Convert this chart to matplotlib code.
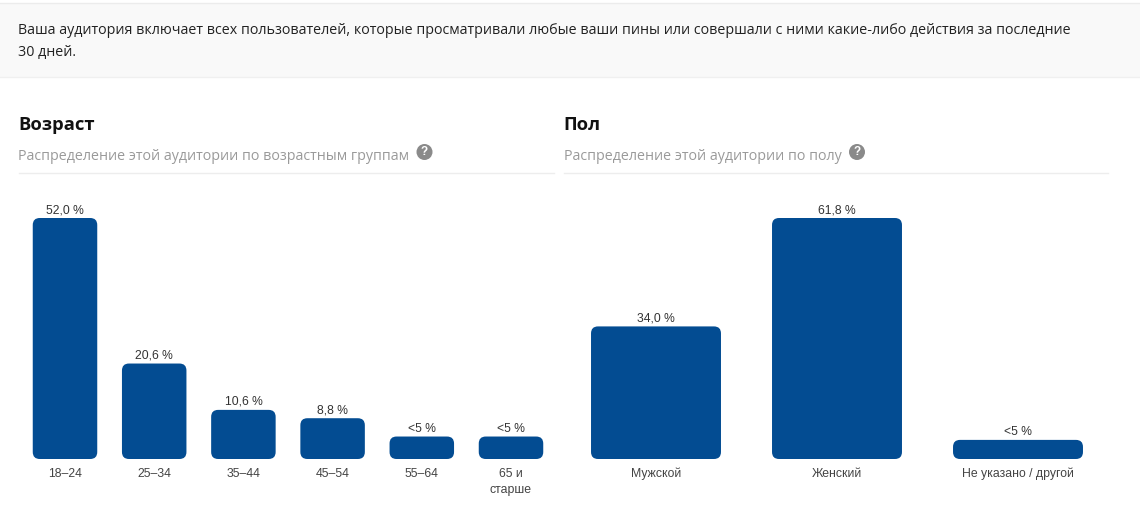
import matplotlib
matplotlib.use("Agg")
import matplotlib.pyplot as plt
from matplotlib.patches import FancyBboxPatch, Rectangle, Circle

age_labels = ["18–24", "25–34", "35–44", "45–54", "55–64", "65 и\nстарше"]
age_values = [52.0, 20.6, 10.6, 8.8, 4.85, 4.85]
age_text = ["52,0 %", "20,6 %", "10,6 %", "8,8 %", "<5 %", "<5 %"]

gender_labels = ["Мужской", "Женский", "Не указано / другой"]
gender_values = [34.0, 61.8, 4.9]
gender_text = ["34,0 %", "61,8 %", "<5 %"]

intro = ("Ваша аудитория включает всех пользователей, которые просматривали любые ваши пины или совершали с ними какие-либо действия за последние\n"
         "30 дней.")

W, H = 1140, 519
BLUE = "#034C92"
UI = "Open Sans"
CH = "Liberation Sans"

fig = plt.figure(figsize=(W / 100, H / 100), dpi=100, facecolor="white")
bg = fig.add_axes([0, 0, 1, 1], zorder=0)
bg.set_xlim(0, W)
bg.set_ylim(H, 0)
bg.axis("off")
bg.add_patch(Rectangle((0, 3), W, 74, fc="#F9F9F9", ec="none"))
bg.plot([0, W], [2.5, 2.5], color="#ECECEC", lw=1)
bg.plot([0, W], [77, 77], color="#F0F0F0", lw=1)
bg.text(18.5, 41.5, intro, fontsize=10.23, family=UI, color="#222222", va="center", linespacing=1.72)

def header(x, title, sub, rule_end, qx):
    bg.text(x, 125, title, fontsize=13.2, family=UI, weight="bold", color="#111111", va="center")
    bg.text(x, 156.5, sub, fontsize=10.3, family=UI, color="#9A9A9A", va="center")
    bg.plot([x, rule_end], [173, 173], color="#EDEDED", lw=1)
    bg.add_patch(Circle((qx, 152), 8, fc="#8A8A8A", ec="none"))
    bg.text(qx, 152, "?", fontsize=8.5, family=CH, weight="bold", color="white", ha="center", va="center")

header(18.5, "Возраст", "Распределение этой аудитории по возрастным группам", 554, 424.5)
header(563.5, "Пол", "Распределение этой аудитории по полу", 1108, 857)

def panel(x0, x1, labels, values, texts, width, px_per_unit):
    top_px, base_px = 195, 459
    ax = fig.add_axes([x0 / W, 1 - base_px / H, (x1 - x0) / W, (base_px - top_px) / H], zorder=1)
    ax.patch.set_alpha(0)
    n = len(values)
    ax.set_xlim(-0.5, n - 0.5)
    ax.set_ylim(0, (base_px - top_px) / px_per_unit)
    step = (x1 - x0) / n
    r = 7 / step
    aspect = step / px_per_unit
    for i, (v, t) in enumerate(zip(values, texts)):
        ax.add_patch(FancyBboxPatch((i - width / 2, 0), width, v,
                                    boxstyle=f"round,pad=0,rounding_size={r}",
                                    mutation_aspect=aspect, fc=BLUE, ec="none"))
        ax.annotate(t, (i, v), xytext=(0, 1.4), textcoords="offset points", ha="center", va="bottom",
                    fontsize=8.7, family=CH, color="#333333")
    ax.set_xticks(range(n), labels, fontsize=8.8, family=CH, color="#444444", linespacing=1.45)
    ax.tick_params(axis="x", length=0, pad=6.4)
    ax.set_yticks([])
    for s in ax.spines.values():
        s.set_visible(False)

panel(20.4, 555.6, age_labels, age_values, age_text, 0.723, 241 / 52.0)
panel(565.5, 1108.5, gender_labels, gender_values, gender_text, 0.718, 241 / 61.8)

fig.savefig("out.png", dpi=100, facecolor="white")
